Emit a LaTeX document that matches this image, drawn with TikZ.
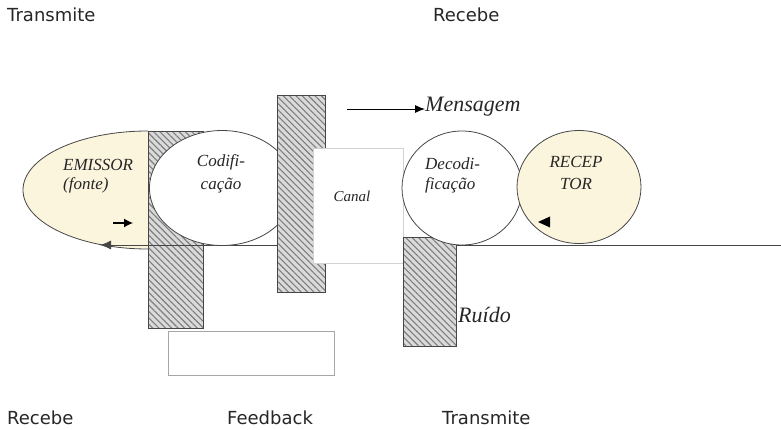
\documentclass[tikz,border=0pt]{standalone}
\usepackage{fontspec}
\setmainfont{Liberation Serif}
\newfontfamily\lblsans{DejaVu Sans}
\usetikzlibrary{shapes.geometric,patterns.meta,arrows.meta}
\definecolor{cream}{RGB}{252,245,222}
\definecolor{hatchbg}{RGB}{218,218,218}
\definecolor{hatchln}{RGB}{125,125,125}
\definecolor{edge}{RGB}{70,70,70}
\begin{document}
\begin{tikzpicture}[x=1pt,y=-1pt,
  hatched/.style={draw=edge, line width=0.8pt, rectangle, inner sep=0pt, anchor=north west,
    preaction={fill=hatchbg}, pattern={Lines[angle=-45,distance=4.5pt,line width=1.1pt]}, pattern color=hatchln},
  oval/.style={draw=edge, line width=0.8pt, ellipse, inner sep=0pt},
  ital/.style={font=\itshape\fontsize{17}{20}\selectfont, text=black!85, inner sep=0pt},
  bigital/.style={font=\itshape\fontsize{22}{24}\selectfont, text=black!85, inner sep=0pt, anchor=base west},
  side/.style={font=\lblsans\fontsize{18}{20}\selectfont, text=black!85, anchor=base west, inner sep=0pt}]
\useasboundingbox (0,0) rectangle (781,430);

% side labels
\node[side] (tTop) at (7,22) {Transmite};
\node[side] (rTop) at (433,22) {Recebe};
\node[side] (rBot) at (7,424) {Recebe};
\node[side] (fBot) at (227,424) {Feedback};
\node[side] (tBot) at (442,424) {Transmite};

% EMISSOR half ellipse
\filldraw[fill=cream, draw=edge, line width=0.8pt] (148,131) arc[start angle=270, end angle=90, x radius=125, y radius=59];

% hatched block 1
\node[hatched, minimum width=55pt, minimum height=197pt] (h1) at (148,131) {};

% feedback line
\coordinate (fbR) at (781,245);
\coordinate (fbL) at (100,245);
\draw[edge, line width=0.9pt, -{Latex[length=11pt,width=9pt]}] (fbR) -- (fbL);

% Codificacao
\node[oval, fill=white, minimum width=145pt, minimum height=115pt] (cod) at (222,188) {};

% hatched block 2
\node[hatched, minimum width=48pt, minimum height=197pt] (h2) at (277,95) {};

% Canal
\node[draw=gray!35, fill=white, line width=0.6pt, rectangle, inner sep=0pt, anchor=north west,
      minimum width=90pt, minimum height=115pt] (canal) at (313,148) {};

% hatched block 3
\node[hatched, minimum width=53pt, minimum height=109pt] (h3) at (403,237) {};

% Decodificacao
\node[oval, fill=white, minimum width=120pt, minimum height=114pt] (dec) at (462,188) {};

% RECEPTOR
\node[oval, fill=cream, minimum width=124pt, minimum height=113pt] (rec) at (579,187) {};

% feedback box
\node[draw=gray!70, line width=1pt, rectangle, inner sep=0pt, anchor=north west,
      minimum width=166pt, minimum height=44pt] (fbox) at (168,331) {};

% texts
\node[ital, anchor=base west] (em1) at (63,171) {EMISSOR};
\node[ital, anchor=base west] (em2) at (63,190) {(fonte)};
\node[ital, anchor=base] (co1) at (221,167) {Codifi-};
\node[ital, anchor=base] (co2) at (221,190) {cação};
\node[ital, anchor=base, font=\itshape\fontsize{15}{17}\selectfont] (ca) at (352,202) {Canal};
\node[ital, anchor=base west] (de1) at (425,170) {Decodi-};
\node[ital, anchor=base west] (de2) at (425,190) {ficação};
\node[ital, anchor=base] (re1) at (576,168) {RECEP};
\node[ital, anchor=base] (re2) at (576,190) {TOR};

% Mensagem
\coordinate (mA) at (347,109);
\node[bigital] (msg) at (425,112) {Mensagem};
\draw[black, line width=0.9pt, -{Latex[length=10pt,width=8pt]}] (mA) -- (msg.west |- mA);

% Ruido
\node[bigital] (ruido) at (458,322) {Ruído};

% small arrows
\coordinate (sa1) at (113,223);
\coordinate (sa2) at (133,223);
\draw[black, line width=1.2pt, -{Latex[length=9pt,width=9pt]}] (sa1) -- (sa2);
\coordinate (ta) at (538,222);
\fill[black] (ta) -- ++(12,-5.5) -- ++(0,11) -- cycle;
\end{tikzpicture}
\end{document}
